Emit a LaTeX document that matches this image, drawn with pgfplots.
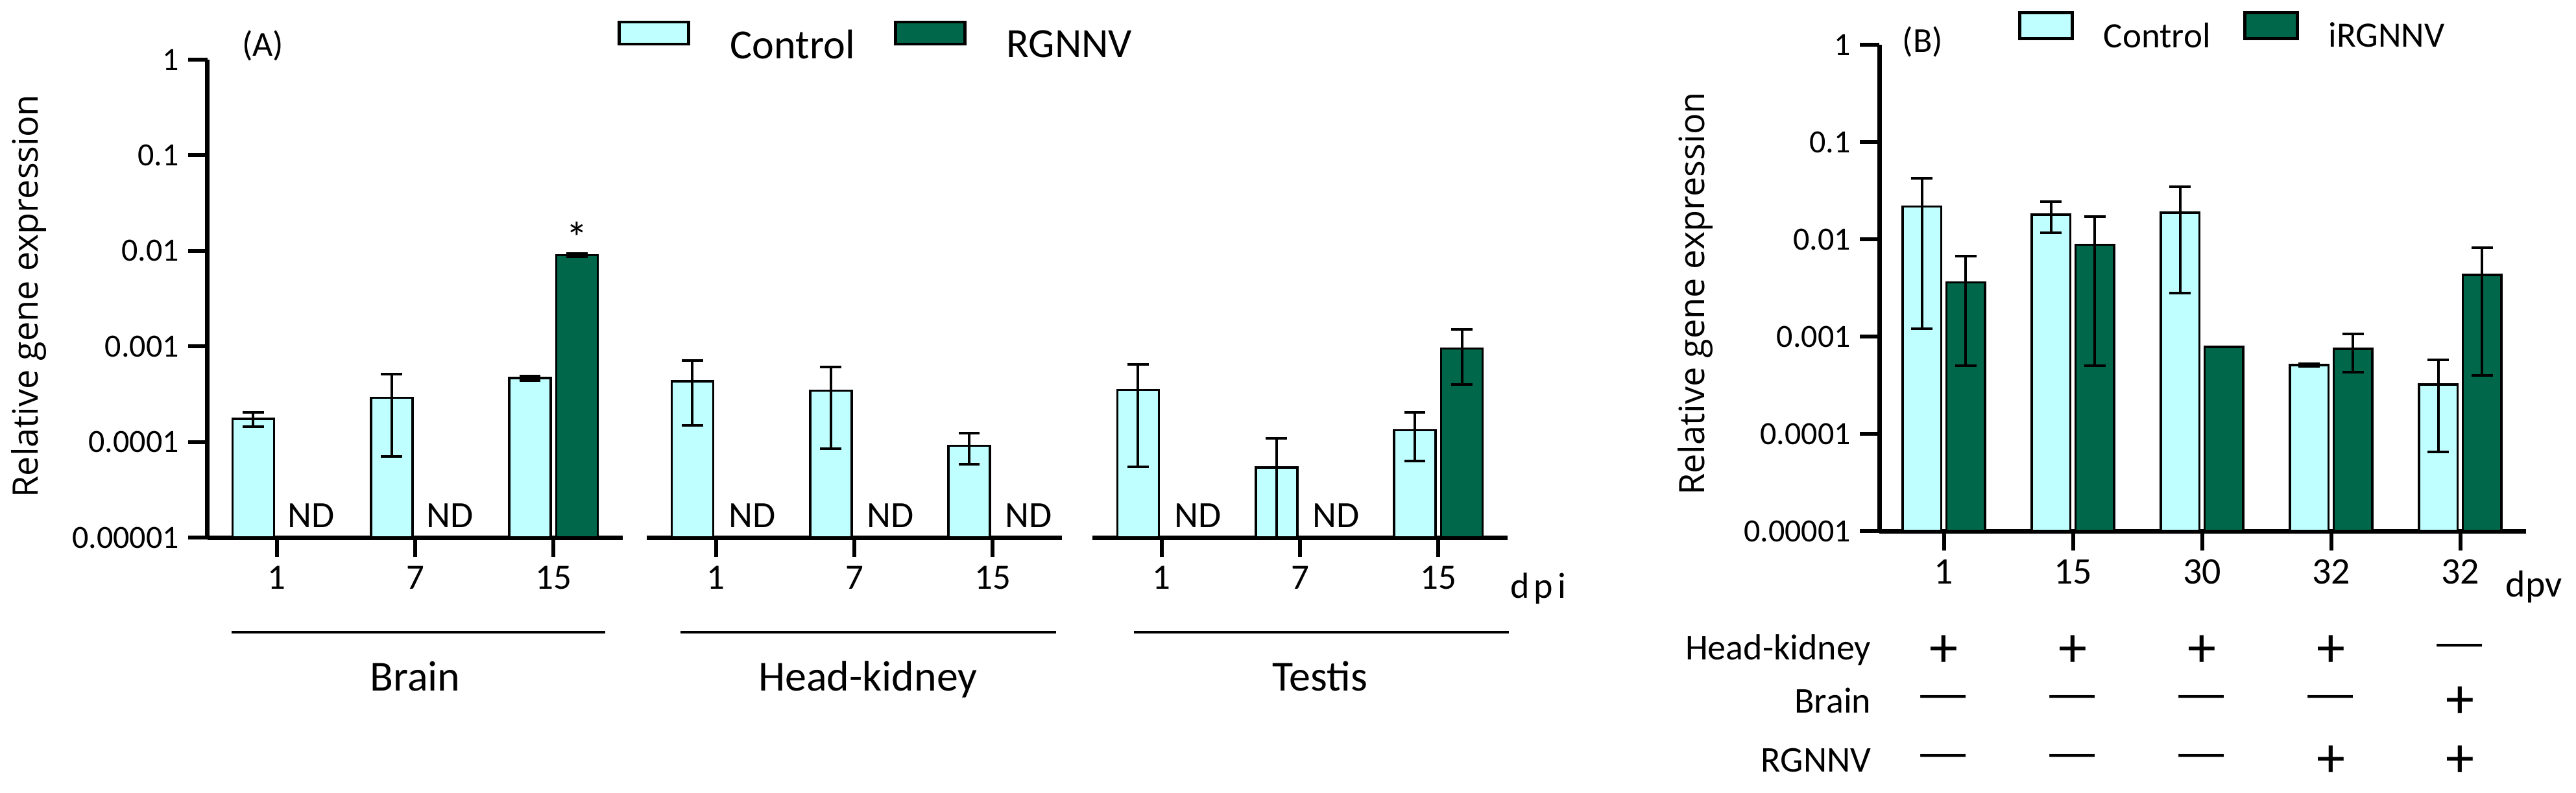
\documentclass[border=0pt]{standalone}
\usepackage{fontspec}
\setmainfont{Carlito}
\newfontfamily\labelfont{Open Sans}
\usepackage{pgfplots}
\pgfplotsset{compat=1.18}
\definecolor{ctrl}{RGB}{191,255,255}
\definecolor{vir}{RGB}{0,103,74}
\newcommand\fs[1]{\fontsize{#1}{#1}\selectfont}
\newcommand\dash{\scalebox{1.4}[1]{—}}

\pgfplotsset{
  myerr/.style={error bars/.cd, y dir=both, y explicit,
      error bar style={line width=1pt, black},
      error mark options={rotate=90, black, line width=1pt, mark size=4.1pt}},
}

\begin{document}
\begin{tikzpicture}
\useasboundingbox (0,0) rectangle (992.75pt,305.5pt);

% ---------- (A) Brain ----------
\begin{axis}[scale only axis, ymode=log, log origin=infty,
  ymin=1e-5, ymax=1, yminorticks=false,
  ybar, bar width=0.30,
  tick align=outside,
  axis line style={-, line width=1.75pt},
  major tick length=7.5pt,
  every tick/.style={black, line width=1.5pt},
  xticklabel style={font=\fs{13.75pt}},
  yticklabel style={font=\fs{12.5pt}},
  ytick={1e-5,1e-4,1e-3,1e-2,1e-1,1},
  yticklabels={0.00001,0.0001,0.001,0.01,0.1,1},
  width=160pt, height=184.25pt,
  xmin=-0.5, xmax=2.5, xtick={0,1,2}, xticklabels={1,7,15},
  axis x line*=bottom, axis y line*=left,
  at={(80pt,98.25pt)}, anchor=south west,
  ylabel={\labelfont\fs{13.5pt}Relative gene expression},
  every axis y label/.style={at={(rel axis cs:-0.409,0.505)}, rotate=90, anchor=base},
  legend style={draw=none, fill=none, inner sep=0pt, outer sep=0pt,
    at={(axis description cs:0.9875,1.038)}, anchor=west,
    legend columns=2, font=\fs{16pt}, nodes={inner sep=0pt},
    /tikz/every odd column/.append style={column sep=15.5pt},
    /tikz/every even column/.append style={column sep=15pt}},
  legend image code/.code={\draw[#1, line width=1.2pt] (0pt,0.75pt) rectangle (26.75pt,9.25pt);},
]
\addplot[fill=ctrl, draw=black, line width=0.9pt, bar shift=-0.17, myerr] coordinates {
  (0,1.75e-4) +- (0,0.3e-4)
  (1,2.9e-4)  +- (0,2.2e-4)
  (2,4.65e-4) +- (0,0.25e-4)
};
\addplot[fill=vir, draw=black, line width=0.9pt, bar shift=0.17, myerr] coordinates {
  (2,9.0e-3) +- (0,0.3e-3)
};
\legend{Control,RGNNV}
\node[anchor=base, yshift=4pt, font=\fs{14.3pt}] at (axis cs:0.25,1e-5) {ND};
\node[anchor=base, yshift=4pt, font=\fs{14.3pt}] at (axis cs:1.25,1e-5) {ND};
\node[anchor=base, font=\fs{17pt}] at (axis cs:2.17,9.4e-3) {*};
\end{axis}

% ---------- (A) Head-kidney ----------
\begin{axis}[scale only axis, ymode=log, log origin=infty,
  ymin=1e-5, ymax=1, yminorticks=false,
  ybar, bar width=0.30,
  tick align=outside,
  axis line style={-, line width=1.75pt},
  major tick length=7.5pt,
  every tick/.style={black, line width=1.5pt},
  xticklabel style={font=\fs{13.75pt}},
  width=160pt, height=184.25pt,
  xmin=-0.5, xmax=2.5, xtick={0,1,2}, xticklabels={1,7,15},
  axis x line*=bottom, axis y line=none,
  at={(249.25pt,98.25pt)}, anchor=south west]
\addplot[fill=ctrl, draw=black, line width=0.9pt, bar shift=-0.17, myerr] coordinates {
  (0,4.3e-4)  +- (0,2.8e-4)
  (1,3.45e-4) +- (0,2.6e-4)
  (2,9.1e-5)  +- (0,3.3e-5)
};
\node[anchor=base, yshift=4pt, font=\fs{14.3pt}] at (axis cs:0.26,1e-5) {ND};
\node[anchor=base, yshift=4pt, font=\fs{14.3pt}] at (axis cs:1.26,1e-5) {ND};
\node[anchor=base, yshift=4pt, font=\fs{14.3pt}] at (axis cs:2.26,1e-5) {ND};
\end{axis}

% ---------- (A) Testis ----------
\begin{axis}[scale only axis, ymode=log, log origin=infty,
  ymin=1e-5, ymax=1, yminorticks=false,
  ybar, bar width=0.30,
  tick align=outside,
  axis line style={-, line width=1.75pt},
  major tick length=7.5pt,
  every tick/.style={black, line width=1.5pt},
  xticklabel style={font=\fs{13.75pt}},
  width=160pt, height=184.25pt,
  xmin=-0.5, xmax=2.5, xtick={0,1,2}, xticklabels={1,7,15},
  axis x line*=bottom, axis y line=none,
  at={(421pt,98.25pt)}, anchor=south west]
\addplot[fill=ctrl, draw=black, line width=0.9pt, bar shift=-0.17, myerr] coordinates {
  (0,3.5e-4)  +- (0,2.95e-4)
  (1,5.4e-5)  += (0,5.6e-5) -= (0,4.9e-5)
  (2,1.33e-4) +- (0,7e-5)
};
\addplot[fill=vir, draw=black, line width=0.9pt, bar shift=0.17, myerr] coordinates {
  (2,9.5e-4) +- (0,5.5e-4)
};
\node[anchor=base, yshift=4pt, font=\fs{14.3pt}] at (axis cs:0.26,1e-5) {ND};
\node[anchor=base, yshift=4pt, font=\fs{14.3pt}] at (axis cs:1.26,1e-5) {ND};
\end{axis}

% ---------- (B) ----------
\begin{axis}[scale only axis, ymode=log, log origin=infty,
  ymin=1e-5, ymax=1, yminorticks=false,
  ybar, bar width=0.30,
  tick align=outside,
  axis line style={-, line width=1.75pt},
  major tick length=7.5pt,
  every tick/.style={black, line width=1.5pt},
  xticklabel style={font=\fs{14.5pt}},
  yticklabel style={font=\fs{12.5pt}},
  ytick={1e-5,1e-4,1e-3,1e-2,1e-1,1},
  yticklabels={0.00001,0.0001,0.001,0.01,0.1,1},
  at={(724.25pt,100.75pt)}, anchor=south west,
  width=249.25pt, height=187.5pt,
  xmin=-0.5, xmax=4.51, xtick={0,1,2,3,4}, xticklabels={1,15,30,32,32},
  axis x line*=bottom, axis y line*=left,
  ylabel={\labelfont\fs{13.5pt}Relative gene expression},
  every axis y label/.style={at={(rel axis cs:-0.27,0.488)}, rotate=90, anchor=base},
  legend style={draw=none, fill=none, inner sep=0pt, outer sep=0pt,
    at={(axis description cs:0.2146,1.028)}, anchor=west,
    legend columns=2, font=\fs{13.75pt}, nodes={inner sep=0pt},
    /tikz/every odd column/.append style={column sep=11.5pt},
    /tikz/every even column/.append style={column sep=12.5pt}},
  legend image code/.code={\draw[#1, line width=1.2pt] (0pt,-0.6pt) rectangle (20.25pt,9.4pt);},
]
\addplot[fill=ctrl, draw=black, line width=0.9pt, bar shift=-0.17, myerr] coordinates {
  (0,0.0217) +- (0,0.0205)
  (1,0.018)  +- (0,0.0063)
  (2,0.0188) +- (0,0.016)
  (3,5.1e-4) +- (0,0.15e-4)
  (4,3.2e-4) +- (0,2.55e-4)
};
\addplot[fill=vir, draw=black, line width=0.9pt, bar shift=0.17, myerr] coordinates {
  (0,0.0036) +- (0,0.0031)
  (1,0.0088) +- (0,0.0083)
  (2,7.8e-4) +- (0,0)
  (3,7.5e-4) +- (0,3.2e-4)
  (4,4.3e-3) +- (0,3.9e-3)
};
\legend{Control,iRGNNV}
\end{axis}

% ---------- annotations (pixel frame) ----------
\begin{scope}[x=0.25pt, y=-0.25pt, shift={(0pt,305.5pt)}]
  \node[font=\fs{13.5pt}] at (405,71) {(A)};
  \node[font=\fs{13.5pt}] at (2964,65) {(B)};
  \draw[line width=1pt] (357,975) -- (933,975);
  \draw[line width=1pt] (1049,975) -- (1628,975);
  \draw[line width=1pt] (1748,975) -- (2326,975);
  \node[anchor=base, font=\fs{16.5pt}] at (640,1065) {Brain};
  \node[anchor=base, font=\fs{16.5pt}] at (1338,1065) {Head-kidney};
  \node[anchor=base, font=\fs{16.5pt}] at (2035,1065) {Testis};
  \node[anchor=base west, inner sep=0pt, font=\fs{14pt}\addfontfeature{LetterSpace=12}] at (2328,922) {dpi};
  \node[anchor=base west, inner sep=0pt, font=\fs{14.5pt}] at (3862,920) {dpv};
  \node[anchor=base east, inner sep=0pt, font=\fs{14pt}] at (2885,1017) {Head-kidney};
  \node[anchor=base east, inner sep=0pt, font=\fs{14pt}] at (2885,1099) {Brain};
  \node[anchor=base east, inner sep=0pt, font=\fs{14pt}] at (2885,1190) {RGNNV};
  \foreach \x in {2996,3195,3394,3593} \node[font=\fs{22pt}] at (\x,1004) {+};
  \node[font=\fs{17pt}] at (3792,1004) {\dash};
  \foreach \x in {2996,3195,3394,3593} \node[font=\fs{17pt}] at (\x,1083) {\dash};
  \node[font=\fs{22pt}] at (3792,1083) {+};
  \foreach \x in {2996,3195,3394} \node[font=\fs{17pt}] at (\x,1174) {\dash};
  \foreach \x in {3593,3792} \node[font=\fs{22pt}] at (\x,1174) {+};
\end{scope}
\end{tikzpicture}
\end{document}
